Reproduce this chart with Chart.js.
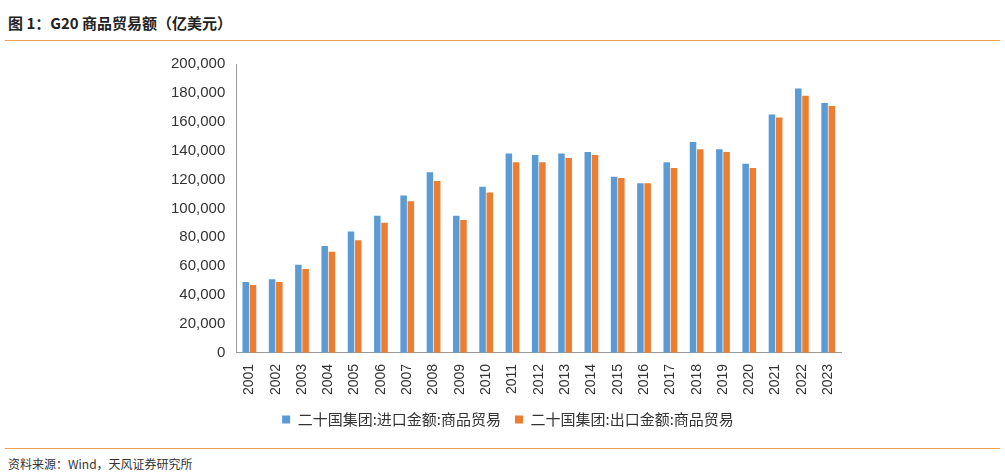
<!DOCTYPE html>
<html><head><meta charset="utf-8">
<script src="https://cdn.jsdelivr.net/npm/chart.js@4/dist/chart.umd.min.js"></script>
<style>
body{margin:0;width:1005px;height:476px;background:#fff;font-family:"Noto Sans CJK SC","Noto Sans",sans-serif;position:relative;overflow:hidden}
#title{position:absolute;left:8px;top:12px;font-size:15px;font-weight:bold;color:#222}
#line1{position:absolute;left:5px;right:5px;top:40px;border-top:1px solid #f0a050}
#line2{position:absolute;left:5px;right:5px;top:448px;border-top:1px solid #f0a050}
#src{position:absolute;left:8px;top:455px;font-size:12px;color:#333}
#wrap{position:absolute;left:168px;top:52px;width:680px;height:385px}
</style></head><body>
<div id="title">图 1：G20 商品贸易额（亿美元）</div>
<div id="line1"></div>
<div id="wrap"><canvas id="c"></canvas></div>
<div id="line2"></div>
<div id="src">资料来源：Wind，天风证券研究所</div>
<script>
// data
const years = ['2001','2002','2003','2004','2005','2006','2007','2008','2009','2010','2011','2012','2013','2014','2015','2016','2017','2018','2019','2020','2021','2022','2023'];
const imports = [49000,51000,61000,74000,84000,95000,109000,125000,95000,115000,138000,137000,138000,139000,122000,117500,132000,146000,141000,131000,165000,183000,173000];
const exports = [47000,49000,58000,70000,78000,90000,105000,119000,92000,111000,132000,132000,135000,137000,121000,117500,128000,141000,139000,128000,163000,178000,171000];

new Chart(document.getElementById('c'), {
  type: 'bar',
  data: {
    labels: years,
    datasets: [
      {label: '二十国集团:进口金额:商品贸易', data: imports, backgroundColor: '#5b9bd5'},
      {label: '二十国集团:出口金额:商品贸易', data: exports, backgroundColor: '#ed7d31'}
    ]
  },
  options: {
    responsive: true, maintainAspectRatio: false, animation: false,
    datasets: {bar: {categoryPercentage: 0.55, barPercentage: 0.9}},
    layout: {padding: {top: 6, right: 0}},
    plugins: {
      legend: {position: 'bottom', labels: {boxWidth: 8, boxHeight: 8, padding: 14, color: '#333', font: {size: 15, family: 'Noto Sans CJK SC'}}},
      tooltip: {enabled: false}
    },
    scales: {
      x: {
        grid: {display: false},
        border: {color: '#999'},
        ticks: {minRotation: 90, maxRotation: 90, color: '#333', font: {size: 14}}
      },
      y: {
        min: 0, max: 200000,
        ticks: {stepSize: 20000, color: '#333', font: {size: 15}, callback: v => v.toLocaleString('en-US')},
        grid: {display: false},
        border: {color: '#999'}
      }
    }
  }
});
</script>
</body></html>
